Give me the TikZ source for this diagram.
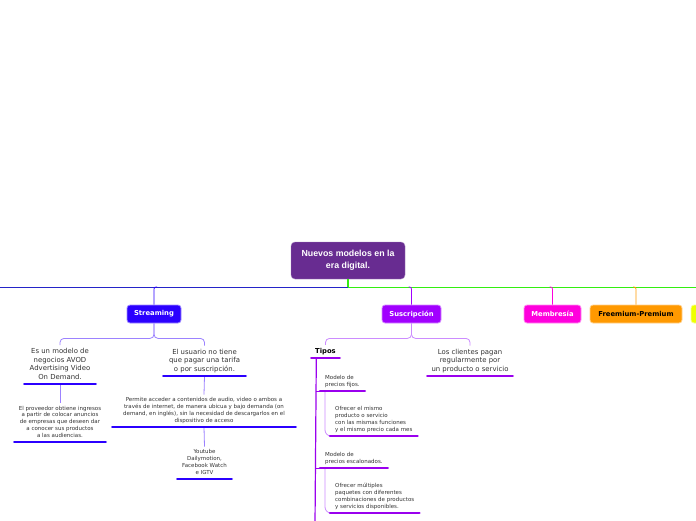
\documentclass[tikz,border=0pt]{standalone}
\usepackage{fontspec}
\setmainfont{DejaVu Sans}
\newfontfamily\rootfont{Liberation Sans}
\usetikzlibrary{positioning}

\definecolor{rootpurple}{HTML}{682C91}
\definecolor{streamblue}{HTML}{2B00FF}
\definecolor{suspurple}{HTML}{A100FF}
\definecolor{memmagenta}{HTML}{FF00DD}
\definecolor{freeorange}{HTML}{FF9900}
\definecolor{yellowbox}{HTML}{EEFF00}
\definecolor{barblue}{HTML}{2424C8}
\definecolor{bargreen}{HTML}{33EE11}
\definecolor{streamlight}{HTML}{9C82FF}
\definecolor{suslight}{HTML}{CC8CFF}
\definecolor{spinepurple}{HTML}{9A00EE}

\tikzset{
  rootbox/.style={fill=rootpurple, draw=rootpurple!60, rounded corners=4pt,
    minimum width=114pt, minimum height=37pt, inner sep=0pt, align=center,
    text=white, font=\rootfont\bfseries\fontsize{8.8}{12}\selectfont},
  mainbox/.style={fill=#1, draw=#1!45, line width=0.8pt, rounded corners=3pt,
    minimum height=18pt, inner sep=0pt, text=white,
    font=\bfseries\fontsize{6.8}{8}\selectfont},
  topic/.style={align=center, anchor=south, inner xsep=0pt, inner ysep=3pt,
    text depth=1.5pt, text=black!80, font=\fontsize{6.9}{8.6}\selectfont},
  subtopic/.style={topic, font=\fontsize{5.5}{6.8}\selectfont},
  leaf/.style={subtopic, anchor=south west, align=left, inner xsep=5pt},
  uline/.style={#1, line width=2.6pt, line cap=round},
  link/.style={#1, line width=0.8pt, rounded corners=4pt}
}

\begin{document}
\begin{tikzpicture}[x=1pt,y=-1pt]
  \useasboundingbox[fill=white] (0,0) rectangle (696,520);

  % root and main bar
  \node[rootbox] (root) at (348,260.5) {Nuevos modelos en la\\era digital.};
  \coordinate (bar) at (0,287);
  \coordinate (barend) at (696,287);
  \draw[barblue, line width=0.9pt] (root.south |- bar) -- (bar);
  \draw[bargreen, line width=0.9pt] (root.south |- bar) -- (barend);
  \draw[bargreen, line width=1.6pt] (root.south) -- (root.south |- bar);

  % main topics
  \node[mainbox=streamblue, minimum width=54pt] (stream) at (154,314) {Streaming};
  \node[mainbox=suspurple, minimum width=59pt] (sus) at (411.5,314) {Suscripción};
  \node[mainbox=memmagenta, minimum width=57pt] (mem) at (552.5,314) {Membresía};
  \node[mainbox=freeorange, minimum width=92pt, text=black] (free) at (636,314) {Freemium-Premium};
  \node[mainbox=yellowbox, minimum width=50pt] (yel) at (716,314) {};

  \draw[link=streamblue, rounded corners=2pt] ([xshift=3pt]stream.north |- bar) -| (stream.north);
  \draw[link=suspurple, rounded corners=2pt] ([xshift=-3pt]sus.north |- bar) -| (sus.north);
  \draw[link=memmagenta, rounded corners=2pt] ([xshift=-3pt]mem.north |- bar) -| (mem.north);
  \draw[link=freeorange, rounded corners=2pt] ([xshift=-3pt]free.north |- bar) -| (free.north);

  % Streaming
  \node[topic, minimum width=71pt] (avod) at (60,384)
    {Es un modelo de\\negocios AVOD\\Advertising Video\\On Demand.};
  \node[subtopic, minimum width=91pt] (proveedor) at (60,442)
    {El proveedor obtiene ingresos\\a partir de colocar anuncios\\de empresas que deseen dar\\a conocer sus productos\\a las audiencias.};
  \node[topic, minimum width=82pt] (usuario) at (204.5,376)
    {El usuario no tiene\\que pagar una tarifa\\o por suscripción.};
  \node[subtopic, minimum width=183pt] (permite) at (204,427)
    {Permite acceder a contenidos de audio, video o ambos a\\través de internet, de manera ubicua y bajo demanda (on\\demand, en inglés), sin la necesidad de descargarlos en el\\dispositivo de acceso};
  \node[subtopic, minimum width=54pt] (youtube) at (204.5,479)
    {Youtube\\Dailymotion,\\Facebook Watch\\e IGTV};

  \draw[link=streamlight] (stream.south) -- ++(0,15) -| (avod.north);
  \draw[link=streamlight] (stream.south) -- ++(0,15) -| (usuario.north);
  \draw[link=streamlight] (avod.south) -- (proveedor.north);
  \draw[link=streamlight] (usuario.south) -- (permite.north);
  \draw[link=streamlight] (permite.south) -- (youtube.north);
  \foreach \n in {avod,proveedor,usuario,permite,youtube}
    \draw[uline=streamblue] (\n.south west) -- (\n.south east);

  % Suscripcion
  \node[topic, minimum width=28pt, font=\bfseries\fontsize{6.8}{8.6}\selectfont, text=black] (tipos) at (325.5,358) {Tipos};
  \node[topic, minimum width=85pt] (clientes) at (470,376)
    {Los clientes pagan\\regularmente por\\un producto o servicio};
  \coordinate (spine) at ([xshift=5pt]tipos.south west);
  \coordinate (spineend) at (315,525);
  \node[leaf] (fijos) at (320,391) {Modelo de\\precios fijos.};
  \node[leaf] (mismo) at (330,436)
    {Ofrecer el mismo\\producto o servicio\\con las mismas funciones\\y el mismo precio cada mes};
  \node[leaf] (escalonados) at (320,468) {Modelo de\\precios escalonados.};
  \node[leaf] (multiples) at (330,513)
    {Ofrecer múltiples\\paquetes con diferentes\\combinaciones de productos\\y servicios disponibles.};

  \draw[link=suslight] (sus.south) -- ++(0,15) -| (tipos.north);
  \draw[link=suslight] (sus.south) -- ++(0,15) -| (clientes.north);
  \draw[spinepurple, line width=1.2pt] (spine) -- (spineend);
  \draw[spinepurple, line width=1pt] (fijos.south west -| spine) -- (fijos.south west);
  \draw[spinepurple, line width=1pt] (escalonados.south west -| spine) -- (escalonados.south west);
  \draw[link=suslight, rounded corners=6pt] ([xshift=5pt]fijos.south west) |- (mismo.south west);
  \draw[link=suslight, rounded corners=6pt] ([xshift=5pt]escalonados.south west) |- (multiples.south west);
  \foreach \n in {tipos,clientes,fijos,mismo,escalonados,multiples}
    \draw[uline=spinepurple] (\n.south west) -- (\n.south east);
\end{tikzpicture}
\end{document}
